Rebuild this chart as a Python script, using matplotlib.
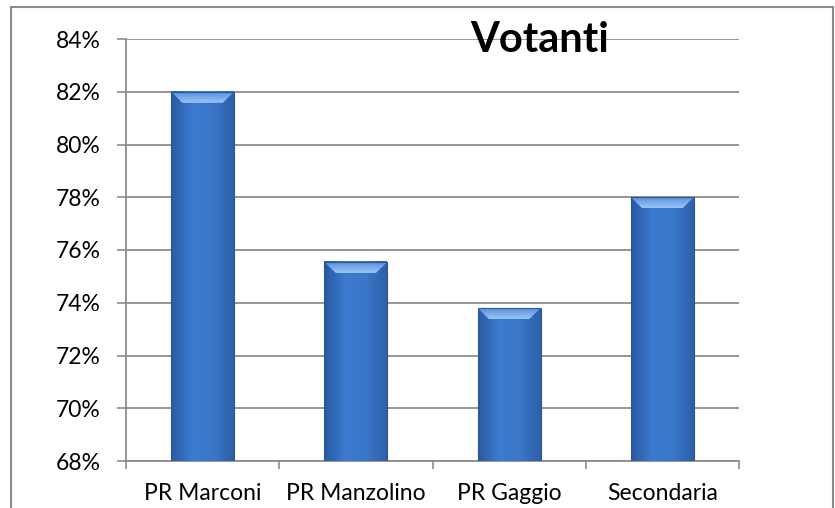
import numpy as np
import matplotlib.pyplot as plt
from matplotlib.patches import Rectangle, Polygon
from matplotlib.colors import LinearSegmentedColormap

plt.rcParams['font.family'] = ['Lato', 'DejaVu Sans']

# --- data ---
categories = ['PR Marconi', 'PR Manzolino', 'PR Gaggio', 'Secondaria']
votanti = [82.0, 75.55, 73.8, 78.0]
yticks = [68, 70, 72, 74, 76, 78, 80, 82, 84]

fig = plt.figure(figsize=(8.35, 5.08), dpi=100)
ax = fig.add_axes([126 / 835, 1 - 461 / 508, 613 / 835, 422 / 508])

x = np.arange(len(categories))
bars = ax.bar(x, [v - 68 for v in votanti], bottom=68, width=0.41,
              color='none', edgecolor='none', zorder=3)

# gradient fill for each bar (darker edges, lighter middle)
cmap = LinearSegmentedColormap.from_list('bar', ['#2a5aa2', '#3c7bd0', '#3a77c8', '#2d60aa'])
grad = np.linspace(0, 1, 64).reshape(1, -1)
top_cmap = LinearSegmentedColormap.from_list('top', ['#4f8ede', '#9cc4f2'])
vgrad = np.linspace(0, 1, 32).reshape(-1, 1)
for b in bars:
    x0, w = b.get_x(), b.get_width()
    y0, h = b.get_y(), b.get_height()
    ax.imshow(grad, cmap=cmap, aspect='auto', extent=[x0, x0 + w, y0, y0 + h], zorder=3)
    # bevel on the top of the bar
    bh = 0.42
    bev = Polygon([(x0, y0 + h), (x0 + w, y0 + h), (x0 + w * 0.82, y0 + h - bh),
                   (x0 + w * 0.18, y0 + h - bh)], closed=True, facecolor='none',
                  edgecolor='none', zorder=4)
    ax.add_patch(bev)
    im = ax.imshow(vgrad[::-1], cmap=top_cmap, aspect='auto', origin='lower',
                   extent=[x0, x0 + w, y0 + h - bh, y0 + h], zorder=4)
    im.set_clip_path(bev)
    ax.add_patch(Rectangle((x0, y0), w, h, facecolor='none', edgecolor='#2b5797', lw=0.8, zorder=5))

ax.set_xlim(-0.5, 3.5)
ax.set_ylim(68, 84)
ax.set_yticks(yticks)
ax.set_yticklabels([f'{t}%' for t in yticks], fontsize=16.5)
ax.yaxis.grid(True, color='#8c8c8c', lw=1.3, zorder=0)
ax.set_axisbelow(True)

ax.set_xticks(x)
ax.set_xticklabels(categories, fontsize=16.5)
ax.tick_params(axis='x', length=0, pad=16)
ax.set_xticks(np.arange(-0.5, 4, 1), minor=True)
ax.tick_params(axis='x', which='minor', length=6, color='#8c8c8c', width=1.2)
ax.tick_params(axis='y', length=6.5, color='#8c8c8c', width=1.2, pad=12)

for s in ['top', 'right']:
    ax.spines[s].set_visible(False)
for s in ['left', 'bottom']:
    ax.spines[s].set_color('#8c8c8c')
    ax.spines[s].set_linewidth(1.3)

ax.text((540 - 126) / 613, (461 - 40) / 422, 'Votanti', transform=ax.transAxes,
        ha='center', va='center', fontsize=30, fontweight='bold', zorder=6)

# outer chart border
fig.patches.append(Rectangle((11 / 835, -0.05), 822 / 835, 1.05 - 7 / 508,
                             transform=fig.transFigure, facecolor='none',
                             edgecolor='#8c8c8c', lw=1.5))

fig.savefig('out.png', dpi=100)
